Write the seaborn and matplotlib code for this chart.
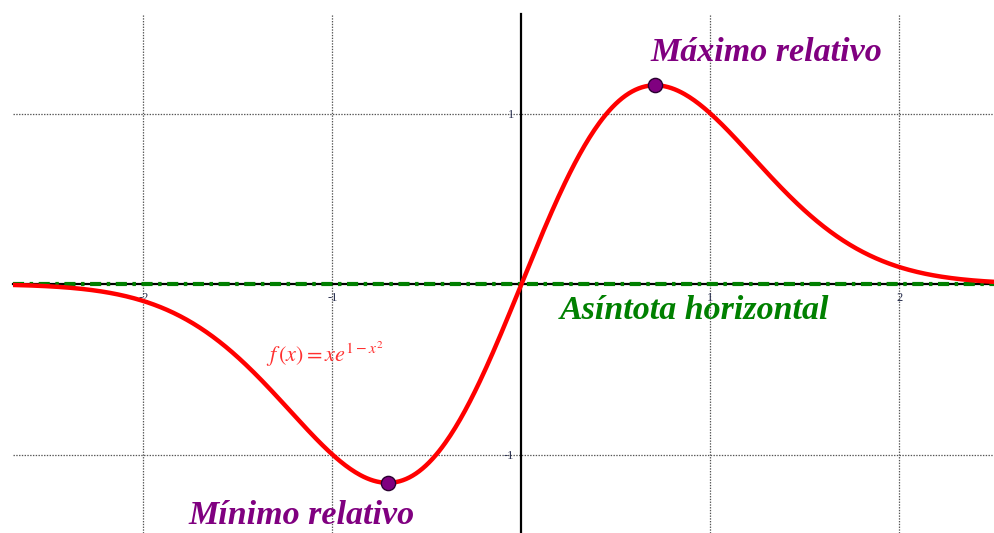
import numpy as np
import pandas as pd
import seaborn as sns
import matplotlib
matplotlib.use("Agg")
import matplotlib.pyplot as plt

# Function shown in the label: f(x) = x * e^(1 - x^2)
x_start, x_end, n_samples = -2.69, 2.50, 600
extrema_x = [-1 / np.sqrt(2), 1 / np.sqrt(2)]
x_ticks = [-2, -1, 1, 2]
y_ticks = [-1, 1]
labels = ["Máximo relativo", "Mínimo relativo", "Asíntota horizontal"]


def f(x):
    return x * np.exp(1 - x ** 2)


xs = np.linspace(x_start, x_end, n_samples)
curve = pd.DataFrame({"x": xs, "y": f(xs)})
ext = pd.DataFrame({"x": extrema_x, "y": f(np.array(extrema_x))})

sns.set_theme(style="white")
plt.rcParams["axes.unicode_minus"] = False
plt.rcParams["mathtext.fontset"] = "stix"
plt.rcParams["lines.scale_dashes"] = False

W, H = 994, 533
fig = plt.figure(figsize=(W / 100, H / 100), dpi=100)
ax = fig.add_axes([13 / W, 0, (W - 13) / W, (H - 14) / H])
ax.set_xlim(x_start, x_end)
ax.set_ylim(-1.46, 1.584)

# axes through the origin
for side in ["top", "right"]:
    ax.spines[side].set_visible(False)
ax.spines["bottom"].set_position("zero")
ax.spines["left"].set_position("zero")
ax.spines["bottom"].set_linewidth(1.6)
ax.spines["left"].set_linewidth(1.6)
ax.spines["bottom"].set_color("black")
ax.spines["left"].set_color("black")
ax.spines["bottom"].set_zorder(1)

ax.set_xticks(x_ticks)
ax.set_yticks(y_ticks)
ax.set_xticklabels([str(t) for t in x_ticks])
ax.set_yticklabels([str(t) for t in y_ticks])
ax.tick_params(axis="both", direction="inout", length=7, width=1.2, color="black",
               labelsize=9, labelcolor="#2a3050", pad=2)
for lab in ax.get_xticklabels() + ax.get_yticklabels():
    lab.set_family("Liberation Serif")

ax.grid(True, linestyle=(0, (1, 1)), color="#555555", linewidth=0.9)
ax.set_axisbelow(True)

# horizontal asymptote y = 0
ax.plot([x_start, x_end], [0, 0], color="#008000", lw=3.0,
        linestyle=(0, (8, 4, 2.5, 4)), zorder=3)

sns.lineplot(data=curve, x="x", y="y", ax=ax, color="#ff0000", lw=3.2,
             zorder=4, sort=False)
sns.scatterplot(data=ext, x="x", y="y", ax=ax, color="#800080",
                edgecolor="#2a0030", linewidth=1.0, s=105, zorder=5)
ax.set_xlabel("")
ax.set_ylabel("")

bi = dict(family="Liberation Serif", style="italic", weight="bold", fontsize=24.5)
ax.text(0.68, 1.36, labels[0], color="#800080", ha="left", va="center", **bi)
ax.text(-1.76, -1.355, labels[1], color="#800080", ha="left", va="center", **bi)
ax.text(0.205, -0.155, labels[2], color="#008000", ha="left", va="center", **bi)
ax.text(-1.35, -0.41, r"$f\,(x) = xe^{1-x^2}$", color="#ff3030",
        fontsize=16, ha="left", va="center")

fig.savefig("out.png", dpi=100)
